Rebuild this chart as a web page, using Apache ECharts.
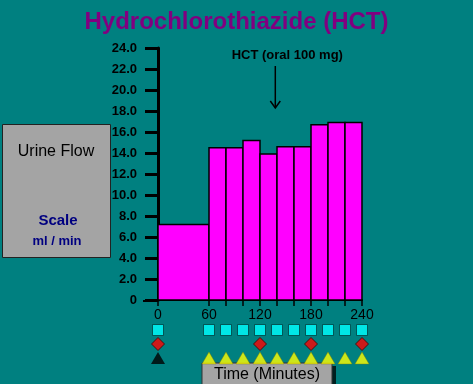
<!DOCTYPE html>
<html>
<head>
<meta charset="utf-8">
<script src="https://cdn.jsdelivr.net/npm/echarts@6/dist/echarts.min.js"></script>
<style>
html,body{margin:0;padding:0;background:#008080;}
#chart{width:473px;height:384px;}
</style>
</head>
<body>
<div id="chart"></div>
<script>
// Urine flow bars (ml/min) by time interval (minutes)
const barStart = [0, 60, 80, 100, 120, 140, 160, 180, 200, 220];
const barEnd   = [60, 80, 100, 120, 140, 160, 180, 200, 220, 240];
const urineFlow = [7.2, 14.5, 14.5, 15.2, 13.9, 14.6, 14.6, 16.7, 16.9, 16.9];

// Axis ticks / labels
const yTicks = [0, 2, 4, 6, 8, 10, 12, 14, 16, 18, 20, 22, 24];
const xTickValues = [0, 60, 80, 100, 120, 140, 160, 180, 200, 220, 240];
const xLabelValues = [0, 60, 120, 180, 240];

// Sampling markers below the time axis
const squareTimes = [0, 60, 80, 100, 120, 140, 160, 180, 200, 220, 240];
const diamondTimes = [0, 120, 180, 240];
const blackTriangleTimes = [0];
const yellowTriangleTimes = [60, 80, 100, 120, 140, 160, 180, 200, 220, 240];

// Annotation
const doseTime = 138;
const doseLabel = 'HCT (oral 100 mg)';

const FONT = 'Liberation Sans, Arial, sans-serif';
const chart = echarts.init(document.getElementById('chart'));

const barData = barStart.map((s, i) => [s, barEnd[i], urineFlow[i]]);

const option = {
  backgroundColor: '#008080',
  animation: false,
  title: {
    text: 'Hydrochlorothiazide (HCT)',
    left: 'center',
    top: 5,
    textStyle: { color: '#800080', fontSize: 24, fontWeight: 'bold', fontFamily: FONT }
  },
  grid: [
    { left: 158, top: 48, width: 204, height: 252 },
    { left: 158, top: 330, width: 204, height: 28 }
  ],
  xAxis: [
    {
      gridIndex: 0, type: 'value', min: 0, max: 240,
      splitLine: { show: false },
      axisLine: { show: true, onZero: false, lineStyle: { color: '#000', width: 2 } },
      axisTick: { show: true, length: 6, customValues: xTickValues, lineStyle: { color: '#000', width: 1.5 } },
      axisLabel: { show: true, customValues: xLabelValues, margin: 8, color: '#000', fontSize: 14, fontFamily: FONT }
    },
    { gridIndex: 1, type: 'value', min: 0, max: 240, show: false }
  ],
  yAxis: [
    {
      gridIndex: 0, type: 'value', min: 0, max: 24, interval: 2,
      splitLine: { show: false },
      axisLine: { show: true, lineStyle: { color: '#000', width: 3 } },
      axisTick: { show: true, length: 13, lineStyle: { color: '#000', width: 3 } },
      axisLabel: {
        margin: 21, color: '#000', fontSize: 13, fontWeight: 'bold', fontFamily: FONT,
        formatter: v => v === 0 ? '0' : v.toFixed(1)
      }
    },
    { gridIndex: 1, type: 'value', min: 0, max: 2, inverse: true, show: false }
  ],
  series: [
    {
      type: 'custom',
      xAxisIndex: 0, yAxisIndex: 0,
      data: barData,
      renderItem: function (params, api) {
        const p0 = api.coord([api.value(0), api.value(2)]);
        const p1 = api.coord([api.value(1), 0]);
        return {
          type: 'rect',
          shape: { x: p0[0], y: p0[1], width: p1[0] - p0[0], height: p1[1] - p0[1] },
          style: { fill: '#ff00ff', stroke: '#000', lineWidth: 1.5 }
        };
      }
    },
    {
      type: 'scatter', xAxisIndex: 1, yAxisIndex: 1,
      symbol: 'rect', symbolSize: 11,
      itemStyle: { color: '#00ffff', borderColor: '#004040', borderWidth: 1 },
      data: squareTimes.map(t => [t, 0])
    },
    {
      type: 'scatter', xAxisIndex: 1, yAxisIndex: 1,
      symbol: 'diamond', symbolSize: [13, 13],
      itemStyle: { color: '#ff0000', borderColor: '#400000', borderWidth: 1 },
      data: diamondTimes.map(t => [t, 1])
    },
    {
      type: 'scatter', xAxisIndex: 1, yAxisIndex: 1,
      symbol: 'triangle', symbolSize: [14, 12],
      itemStyle: { color: '#000000' },
      data: blackTriangleTimes.map(t => [t, 2])
    },
    {
      type: 'scatter', xAxisIndex: 1, yAxisIndex: 1,
      symbol: 'triangle', symbolSize: [14, 12],
      itemStyle: { color: '#ffff00', borderColor: '#808000', borderWidth: 0.5 },
      data: yellowTriangleTimes.map(t => [t, 2])
    }
  ],
  graphic: [
    // left extension of time axis line
    { type: 'line', shape: { x1: 143, y1: 301, x2: 158, y2: 301 }, style: { stroke: '#000', lineWidth: 2 }, z: 10 },
    // Urine flow box
    { type: 'rect', shape: { x: 2.5, y: 124.5, width: 108, height: 133 }, style: { fill: '#a4a4a4', stroke: '#222', lineWidth: 1 } },
    { type: 'text', x: 56, y: 152, style: { text: 'Urine Flow', fill: '#000', font: '16px ' + FONT, align: 'center', verticalAlign: 'middle' } },
    { type: 'text', x: 58, y: 221, style: { text: 'Scale', fill: '#000080', font: 'bold 15px ' + FONT, align: 'center', verticalAlign: 'middle' } },
    { type: 'text', x: 57, y: 241, style: { text: 'ml / min', fill: '#000080', font: 'bold 13px ' + FONT, align: 'center', verticalAlign: 'middle' } },
    // Time box with shadow
    { type: 'rect', shape: { x: 205, y: 366, width: 131, height: 20 }, style: { fill: '#002020' } },
    { type: 'rect', shape: { x: 202, y: 363, width: 130, height: 22 }, style: { fill: '#a4a4a4', stroke: '#333', lineWidth: 1 } },
    { type: 'text', x: 267, y: 375, style: { text: 'Time (Minutes)', fill: '#000', font: '16px ' + FONT, align: 'center', verticalAlign: 'middle' } }
  ]
};
chart.setOption(option);

// Dose annotation placed through the axis scale
const ax = chart.convertToPixel({ xAxisIndex: 0 }, doseTime);
chart.setOption({
  graphic: option.graphic.concat([
    { type: 'text', x: ax + 12, y: 55, style: { text: doseLabel, fill: '#000', font: 'bold 13px ' + FONT, align: 'center', verticalAlign: 'middle' } },
    { type: 'line', shape: { x1: ax, y1: 66, x2: ax, y2: 108 }, style: { stroke: '#000', lineWidth: 1.5 } },
    { type: 'polyline', shape: { points: [[ax - 5, 101], [ax, 108], [ax + 5, 101]] }, style: { stroke: '#000', lineWidth: 1.5, fill: null } }
  ])
});
</script>
</body>
</html>
